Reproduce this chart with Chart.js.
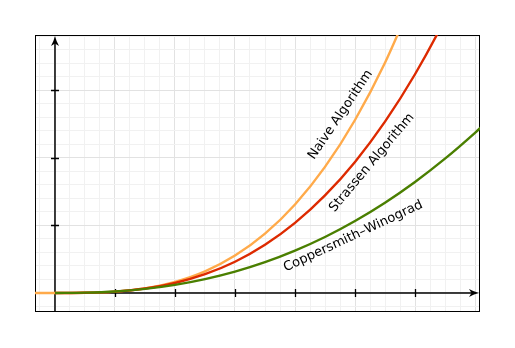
<!DOCTYPE html>
<html>
<head>
<meta charset="utf-8">
<script src="https://cdn.jsdelivr.net/npm/chart.js@4/dist/chart.umd.min.js"></script>
<style>
  html, body { margin: 0; padding: 0; background: #fff; }
  canvas { display: block; }
</style>
</head>
<body>
<canvas id="chart" width="515" height="348"></canvas>
<script>
// matrix size on x, running time on y (arbitrary units)
const nValues = [0, 0.5, 1, 1.5, 2, 2.5, 3, 3.5, 4, 4.5, 5, 5.5, 6, 6.5, 7, 7.2];
const naiveTime = [0, 0.003, 0.021, 0.069, 0.164, 0.320, 0.554, 0.879, 1.312, 1.868, 2.563, 3.411, 4.428];
const strassenTime = [0, 0.003, 0.021, 0.066, 0.148, 0.278, 0.463, 0.714, 1.038, 1.445, 1.942, 2.538, 3.241, 4.058, 4.995];
const cwTime = [0, 0.005, 0.023, 0.061, 0.121, 0.206, 0.317, 0.457, 0.628, 0.830, 1.067, 1.338, 1.645, 1.990, 2.373, 2.537];
const xMajorTicks = [1, 2, 3, 4, 5, 6];
const yMajorTicks = [1, 2, 3];

const curveNames = ["Naive Algorithm", "Strassen Algorithm", "Coppersmith\u2013Winograd"];
const labelX = [4.76, 5.28, 4.97];
const labelY = [2.64, 1.93, 0.84];
const labelAngle = [-56, -50, -25];

const xMin = -0.3333, xMax = 7.0833;
const yMin = -0.2815, yMax = 3.8222;

const toPoints = (ys) => ys.map((y, i) => ({ x: nValues[i], y: y }));
// naive curve also runs flat to the left of the origin
const naivePoints = [{ x: xMin, y: 0 }].concat(toPoints(naiveTime));

const isWhole = (v) => Math.abs(v - Math.round(v)) < 1e-6;

function arrowHead(ctx, tipX, tipY, dx, dy) {
  // dx, dy: unit direction the arrow points to
  const len = 10, half = 4;
  const px = -dy, py = dx;
  const bx = tipX - dx * len, by = tipY - dy * len;
  ctx.beginPath();
  ctx.moveTo(tipX, tipY);
  ctx.quadraticCurveTo(tipX - dx * len * 0.5 + px * 1.2, tipY - dy * len * 0.5 + py * 1.2, bx + px * half, by + py * half);
  ctx.lineTo(tipX - dx * len * 0.75, tipY - dy * len * 0.75);
  ctx.lineTo(bx - px * half, by - py * half);
  ctx.quadraticCurveTo(tipX - dx * len * 0.5 - px * 1.2, tipY - dy * len * 0.5 - py * 1.2, tipX, tipY);
  ctx.closePath();
  ctx.fill();
}

const axesPlugin = {
  id: 'axesPlugin',
  beforeDatasetsDraw(chart) {
    const { ctx, chartArea: a, scales: { x, y } } = chart;
    const x0 = x.getPixelForValue(0);
    const y0 = y.getPixelForValue(0);
    ctx.save();
    ctx.strokeStyle = '#000';
    ctx.fillStyle = '#000';

    // frame
    ctx.lineWidth = 1;
    ctx.strokeRect(a.left + 0.5, a.top + 0.5, a.right - a.left - 1, a.bottom - a.top - 1);

    // axis lines
    ctx.lineWidth = 1.5;
    ctx.beginPath();
    ctx.moveTo(a.left, y0);
    ctx.lineTo(a.right - 6, y0);
    ctx.moveTo(x0, a.bottom);
    ctx.lineTo(x0, a.top + 6);
    ctx.stroke();

    // tick marks
    ctx.lineWidth = 1.3;
    ctx.beginPath();
    xMajorTicks.forEach(v => {
      const px = Math.round(x.getPixelForValue(v)) + 0.5;
      ctx.moveTo(px, y0 - 4);
      ctx.lineTo(px, y0 + 4);
    });
    yMajorTicks.forEach(v => {
      const py = Math.round(y.getPixelForValue(v)) + 0.5;
      ctx.moveTo(x0 - 4, py);
      ctx.lineTo(x0 + 4, py);
    });
    ctx.stroke();

    arrowHead(ctx, a.right - 1, y0, 1, 0);
    arrowHead(ctx, x0, a.top + 1, 0, -1);
    ctx.restore();
  },
  afterDatasetsDraw(chart) {
    const { ctx, scales: { x, y } } = chart;
    ctx.save();
    ctx.fillStyle = '#000';
    ctx.font = '13px "DejaVu Sans", sans-serif';
    ctx.textAlign = 'center';
    ctx.textBaseline = 'middle';
    curveNames.forEach((name, i) => {
      ctx.save();
      ctx.translate(x.getPixelForValue(labelX[i]), y.getPixelForValue(labelY[i]));
      ctx.rotate(labelAngle[i] * Math.PI / 180);
      ctx.fillText(name, 0, 0);
      ctx.restore();
    });
    ctx.restore();
  }
};

const gridColor = (ctx) => isWhole(ctx.tick.value) ? '#e2e2e2' : '#f1f1f1';

new Chart(document.getElementById('chart'), {
  type: 'line',
  data: {
    datasets: [
      { label: curveNames[2], data: toPoints(cwTime), borderColor: '#4a7f00' },
      { label: curveNames[1], data: toPoints(strassenTime), borderColor: '#dd2a00' },
      { label: curveNames[0], data: naivePoints, borderColor: '#ffaa4a' }
    ]
  },
  options: {
    responsive: false,
    animation: false,
    elements: {
      point: { radius: 0 },
      line: { borderWidth: 2.4, cubicInterpolationMode: 'monotone', fill: false }
    },
    layout: { padding: { left: 35, top: 35, right: 35, bottom: 36 } },
    plugins: { legend: { display: false }, tooltip: { enabled: false } },
    scales: {
      x: {
        type: 'linear',
        min: xMin,
        max: xMax,
        ticks: { display: false, stepSize: 0.25, includeBounds: false },
        grid: { color: gridColor, lineWidth: 1, drawTicks: false },
        border: { display: false },
        afterFit: (s) => { s.height = 0; }
      },
      y: {
        type: 'linear',
        min: yMin,
        max: yMax,
        ticks: { display: false, stepSize: 0.2, includeBounds: false },
        grid: { color: gridColor, lineWidth: 1, drawTicks: false },
        border: { display: false },
        afterFit: (s) => { s.width = 0; }
      }
    }
  },
  plugins: [axesPlugin]
});
</script>
</body>
</html>
